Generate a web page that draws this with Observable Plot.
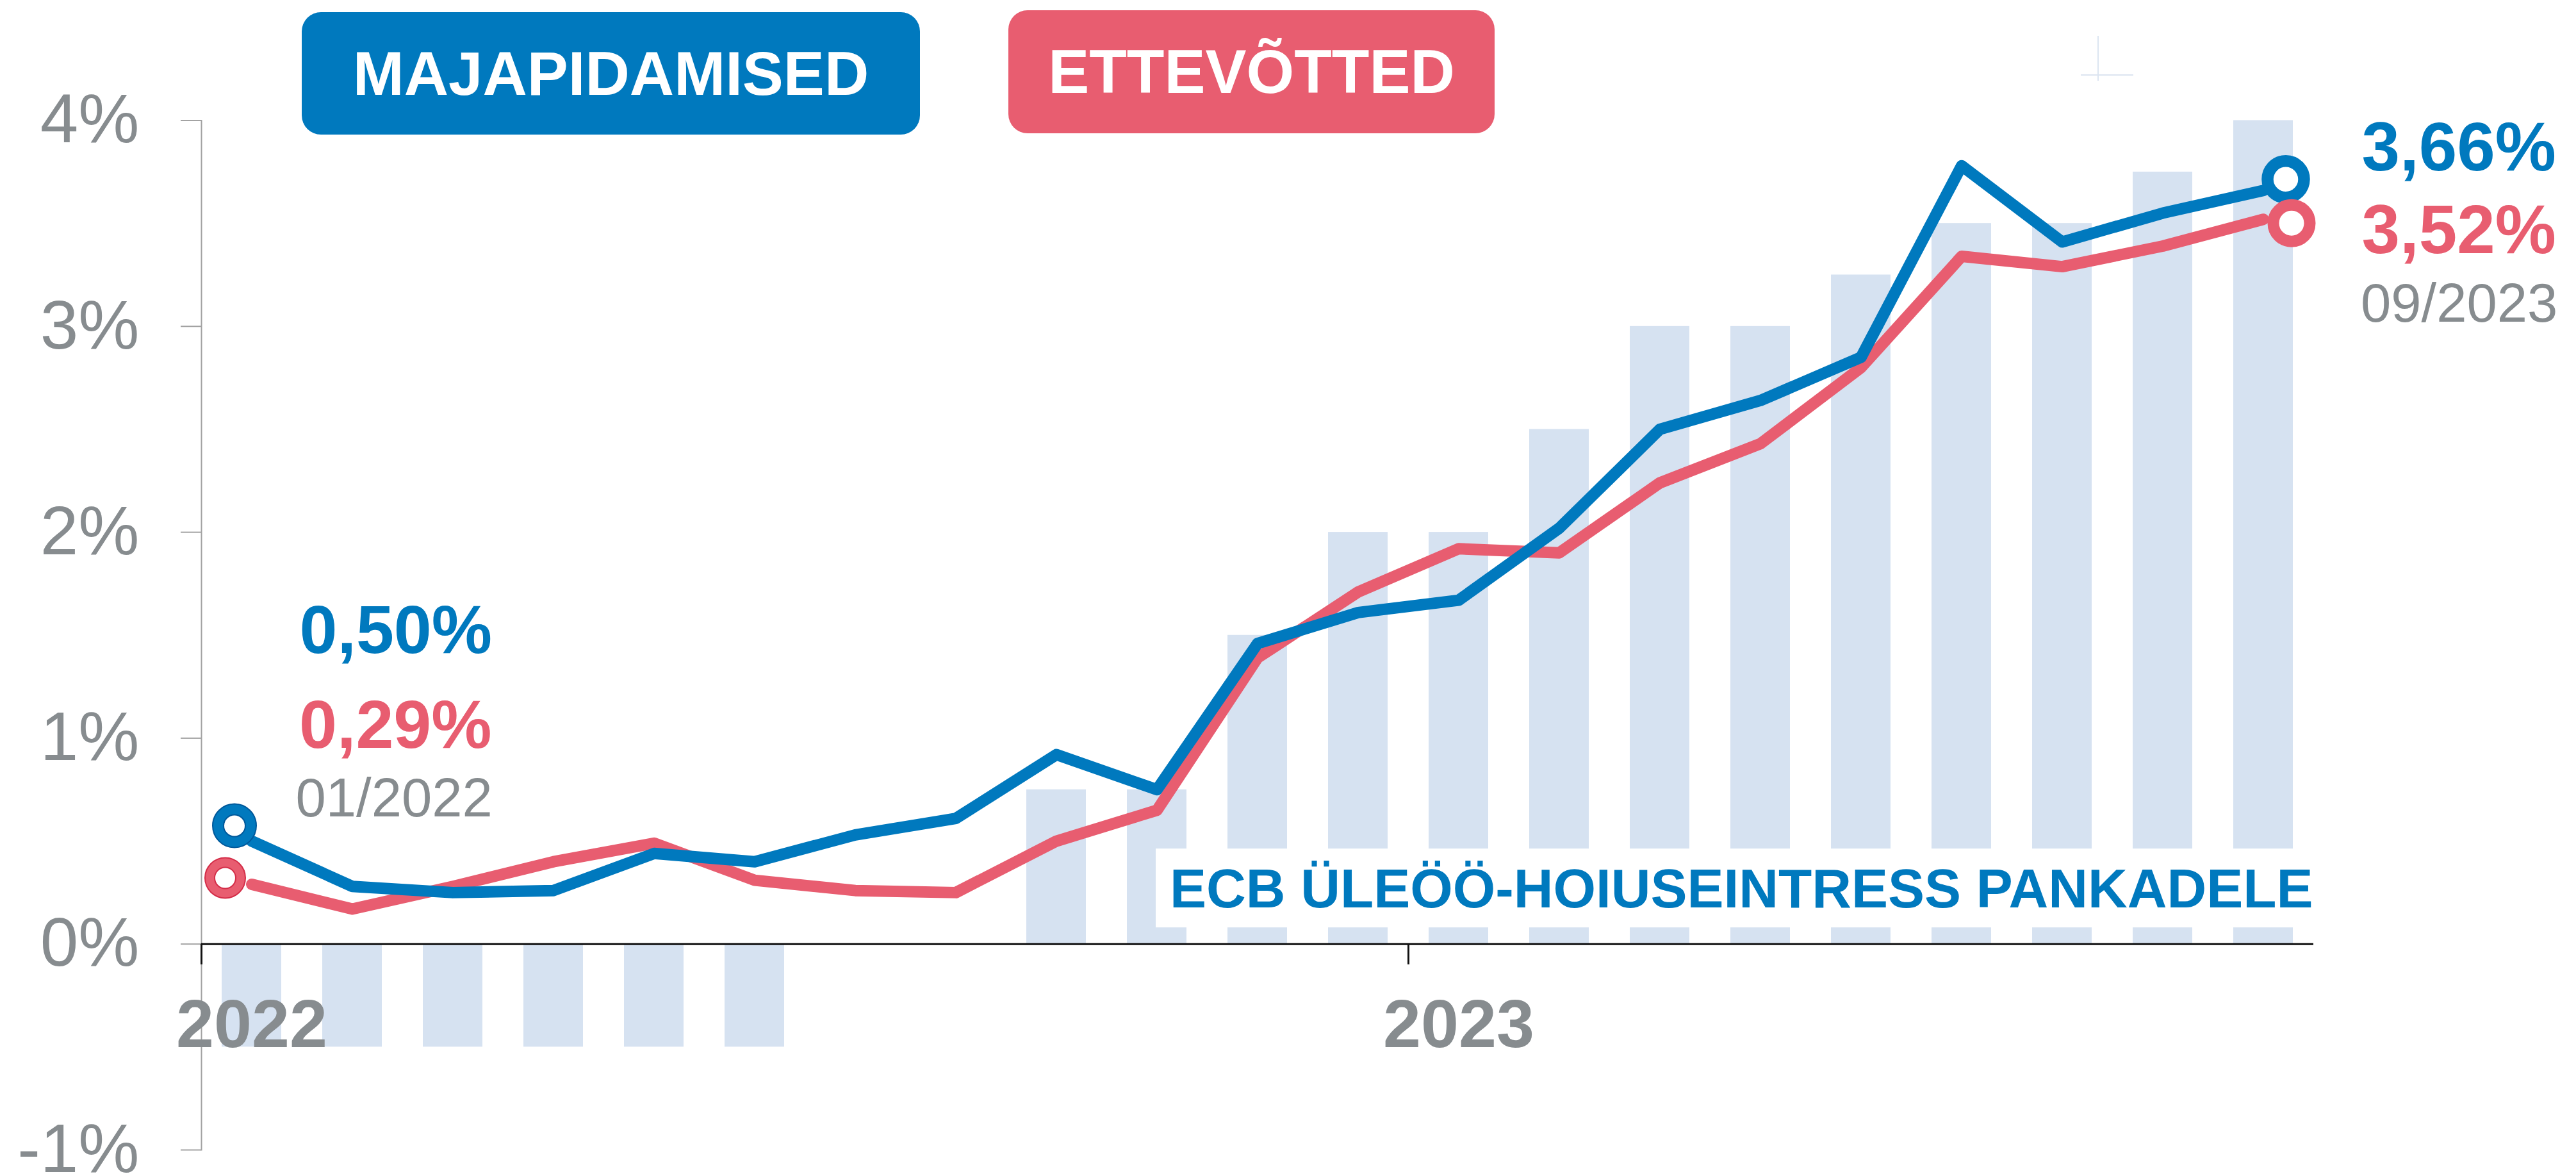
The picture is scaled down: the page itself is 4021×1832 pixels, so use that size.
<!DOCTYPE html>
<html>
<head>
<meta charset="utf-8">
<script src="https://cdn.jsdelivr.net/npm/d3@7"></script>
<script src="https://cdn.jsdelivr.net/npm/@observablehq/plot@0.6"></script>
<style>
  html, body { margin: 0; padding: 0; background: #ffffff; }
  #wrap { position: relative; width: 4021px; height: 1832px; font-family: "Liberation Sans", Arial, Helvetica, sans-serif; }
  .legend-box { position: absolute; color: #ffffff; font-weight: bold; font-size: 96px; display: flex; align-items: center; justify-content: center; border-radius: 30px; }
  .faint { position: absolute; background: #dce5f1; }
</style>
</head>
<body>
<div id="wrap"></div>
<script>
// ---- data ----
const months = ["2022-01","2022-02","2022-03","2022-04","2022-05","2022-06","2022-07","2022-08","2022-09","2022-10","2022-11","2022-12",
                "2023-01","2023-02","2023-03","2023-04","2023-05","2023-06","2023-07","2023-08","2023-09"];
const ecbRate    = [-0.5,-0.5,-0.5,-0.5,-0.5,-0.5, 0, 0, 0.75, 0.75, 1.5, 2, 2, 2.5, 3, 3, 3.25, 3.5, 3.5, 3.75, 4];
const households = [0.50, 0.28, 0.25, 0.26, 0.44, 0.40, 0.53, 0.61, 0.92, 0.75, 1.46, 1.61, 1.67, 2.02, 2.50, 2.64, 2.85, 3.78, 3.41, 3.55, 3.66];
const companies  = [0.29, 0.17, 0.28, 0.40, 0.49, 0.31, 0.26, 0.25, 0.50, 0.65, 1.39, 1.71, 1.92, 1.90, 2.24, 2.43, 2.80, 3.34, 3.29, 3.39, 3.52];
const seriesNames = ["MAJAPIDAMISED", "ETTEVÕTTED"];
const startValueLabels = ["0,50%", "0,29%"];
const endValueLabels = ["3,66%", "3,52%"];
const dateLabels = ["01/2022", "09/2023"];
const yearTickMonths = ["2022-01", "2023-01"];
const yearLabels = ["2022", "2023"];
const yTicks = [-1, 0, 1, 2, 3, 4];
const ecbLabel = "ECB ÜLEÖÖ-HOIUSEINTRESS PANKADELE";

// ---- styles ----
const BLUE = "#0079be", RED = "#e85d70", BAR = "#d6e2f1", GRAY = "#878c8f";
const BLUE_DARK = "#00589a", RED_DARK = "#d42d48";
const FONT = "Liberation Sans, Arial, Helvetica, sans-serif";

const data = months.map((m, i) => ({month: m, ecb: ecbRate[i], hh: households[i], co: companies[i]}));
const first = data[0], last = data[data.length - 1];
const years = yearTickMonths.map((m, i) => ({month: m, label: yearLabels[i]}));

const plot = Plot.plot({
  width: 4021,
  height: 1832,
  marginLeft: 314,
  marginRight: 410,
  marginTop: 187.5,
  marginBottom: 38,
  style: {fontFamily: FONT, background: "#ffffff", overflow: "visible"},
  x: {type: "band", domain: months, paddingInner: 0.408, paddingOuter: 0.204, round: false, axis: null},
  y: {domain: [-1, 4], axis: null},
  marks: [
    Plot.barY(data.filter(d => d.ecb !== 0), {x: "month", y: "ecb", fill: BAR}),
    Plot.text([ecbLabel], {x: () => months[9], y: () => 0, text: d => d, textAnchor: "start", lineAnchor: "bottom",
      dx: 20, dy: -57, fill: BLUE, fontWeight: "bold", fontSize: 85.5}),
    Plot.frame({anchor: "left", stroke: "#a3a3a3", strokeWidth: 2}),
    Plot.axisY({ticks: yTicks, tickFormat: d => `${d}%`, tickSize: 32, tickPadding: 65, fontSize: 107,
      stroke: "#a3a3a3", fill: GRAY, strokeWidth: 2}),
    Plot.ruleY([0], {stroke: "#111111", strokeWidth: 3}),
    Plot.ruleX(years, {x: "month", y1: () => 0, y2: () => -0.1, dx: -78.5, stroke: "#111111", strokeWidth: 3}),
    Plot.text(years, {x: "month", y: () => 0, text: "label", lineAnchor: "bottom", dy: 161,
      fill: GRAY, fontWeight: "bold", fontSize: 106}),
    Plot.line(data, {x: "month", y: "co", stroke: RED, strokeWidth: 18, strokeLinejoin: "round", strokeLinecap: "round"}),
    Plot.line(data, {x: "month", y: "hh", stroke: BLUE, strokeWidth: 18, strokeLinejoin: "round", strokeLinecap: "round"}),
    // start circles
    Plot.dot([first], {x: "month", y: "hh", r: 25.5, fill: "white", stroke: BLUE_DARK, strokeWidth: 19, dx: -27, dy: -24}),
    Plot.dot([first], {x: "month", y: "hh", r: 25.5, fill: "none", stroke: BLUE, strokeWidth: 15, dx: -27, dy: -24}),
    Plot.dot([first], {x: "month", y: "co", r: 24, fill: "white", stroke: RED_DARK, strokeWidth: 17, dx: -41.5, dy: -10}),
    Plot.dot([first], {x: "month", y: "co", r: 24, fill: "none", stroke: RED, strokeWidth: 13, dx: -41.5, dy: -10}),
    // end circles
    Plot.dot([last], {x: "month", y: "hh", r: 28.5, fill: "white", stroke: BLUE, strokeWidth: 18.5, dx: 35, dy: -17.5}),
    Plot.dot([last], {x: "month", y: "co", r: 28.5, fill: "white", stroke: RED, strokeWidth: 18, dx: 44, dy: 6}),
    // start labels
    Plot.text([first], {x: "month", y: "hh", text: () => startValueLabels[0], textAnchor: "start", lineAnchor: "bottom",
      dx: 74.5, dy: -294, fill: BLUE, fontWeight: "bold", fontSize: 106}),
    Plot.text([first], {x: "month", y: "co", text: () => startValueLabels[1], textAnchor: "start", lineAnchor: "bottom",
      dx: 74, dy: -213.5, fill: RED, fontWeight: "bold", fontSize: 106}),
    Plot.text([first], {x: "month", y: "co", text: () => dateLabels[0], textAnchor: "start", lineAnchor: "bottom",
      dx: 68.5, dy: -106.5, fill: GRAY, fontSize: 85}),
    // end labels
    Plot.text([last], {x: "month", y: "hh", text: () => endValueLabels[0], textAnchor: "start", lineAnchor: "bottom",
      dx: 153.5, dy: -31, fill: BLUE, fontWeight: "bold", fontSize: 107}),
    Plot.text([last], {x: "month", y: "co", text: () => endValueLabels[1], textAnchor: "start", lineAnchor: "bottom",
      dx: 153.5, dy: 52.5, fill: RED, fontWeight: "bold", fontSize: 107}),
    Plot.text([last], {x: "month", y: "co", text: () => dateLabels[1], textAnchor: "start", lineAnchor: "bottom",
      dx: 152, dy: 159.5, fill: GRAY, fontSize: 85})
  ]
});

const wrap = document.getElementById("wrap");
wrap.appendChild(plot);

// white background box behind the ECB label
const ecbText = [...plot.querySelectorAll("text")].find(el => el.textContent === ecbLabel);
if (ecbText) {
  const bb = ecbText.getBBox();
  const rect = document.createElementNS("http://www.w3.org/2000/svg", "rect");
  rect.setAttribute("x", bb.x - 22);
  rect.setAttribute("y", bb.y - 15);
  rect.setAttribute("width", bb.width + 44);
  rect.setAttribute("height", bb.height + 28);
  rect.setAttribute("fill", "#ffffff");
  const tr = ecbText.getAttribute("transform");
  if (tr) rect.setAttribute("transform", tr);
  ecbText.parentNode.insertBefore(rect, ecbText);
}

// legend boxes
const legendSpecs = [
  {name: seriesNames[0], color: BLUE, left: 471, top: 19, width: 965, height: 191},
  {name: seriesNames[1], color: RED, left: 1574, top: 16, width: 759, height: 192}
];
for (const s of legendSpecs) {
  const div = document.createElement("div");
  div.className = "legend-box";
  div.textContent = s.name;
  Object.assign(div.style, {left: s.left + "px", top: s.top + "px", width: s.width + "px", height: s.height + "px", background: s.color});
  wrap.appendChild(div);
}
// faint cross artifact at the top right
const v = document.createElement("div"); v.className = "faint";
Object.assign(v.style, {left: "3274px", top: "56px", width: "2px", height: "70px"});
const h = document.createElement("div"); h.className = "faint";
Object.assign(h.style, {left: "3248px", top: "116px", width: "82px", height: "2px"});
wrap.appendChild(v); wrap.appendChild(h);
</script>
</body>
</html>
